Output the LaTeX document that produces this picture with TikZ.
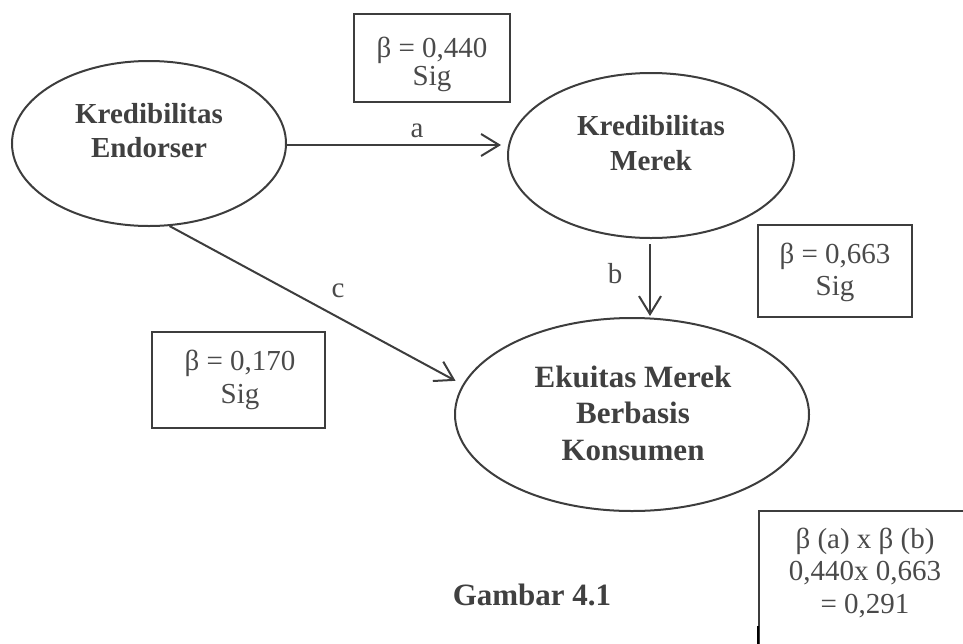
\documentclass[tikz,border=0pt]{standalone}
\usepackage{fontspec}
\setmainfont{Liberation Serif}
\usetikzlibrary{shapes.geometric,arrows.meta}
\definecolor{lc}{HTML}{3D3D3D}
\definecolor{bt}{HTML}{404040}
\definecolor{rt}{HTML}{4A4A4A}
\tikzset{
  oval/.style={ellipse,draw=lc,line width=2pt,inner sep=0pt},
  valbox/.style={rectangle,draw=lc,line width=2pt,inner sep=0pt},
  boldtxt/.style={text=bt,font=\bfseries\fontsize{29}{34}\selectfont,align=center,inner sep=0pt,anchor=base},
  regtxt/.style={text=rt,font=\fontsize{29}{28}\selectfont,align=center,inner sep=0pt,anchor=base},
  arr/.style={draw=lc,line width=2pt,-{Straight Barb[length=18pt,width=22pt,line width=2pt]}},
}
\begin{document}
\begin{tikzpicture}[x=1pt,y=1pt]
\useasboundingbox (0,0) rectangle (963,-643);
\clip (0,0) rectangle (963,-643);
% ellipses
\node[oval,minimum width=274pt,minimum height=165pt] (e1) at (149,-143.5) {};
\node[oval,minimum width=286pt,minimum height=165pt] (e2) at (651,-155.5) {};
\node[oval,minimum width=354pt,minimum height=193pt] (e3) at (632,-414.5) {};
\node[boldtxt] (t1) at (149,-157) {Kredibilitas\\Endorser};
\node[boldtxt,font=\bfseries\fontsize{29}{35}\selectfont] (t2) at (651,-170) {Kredibilitas\\Merek};
\node[boldtxt,font=\bfseries\fontsize{31}{36.5}\selectfont] (t3) at (633,-460) {Ekuitas Merek\\Berbasis\\Konsumen};
% boxes
\node[valbox,minimum width=156pt,minimum height=88pt] (b1) at (432,-58) {};
\node[valbox,minimum width=154pt,minimum height=92pt] (b2) at (835,-271) {};
\node[valbox,minimum width=173pt,minimum height=96pt] (b4) at (238.5,-380) {};
\node[valbox,minimum width=220pt,minimum height=150pt,anchor=north west] (b3) at (758,-510) {};
\draw[black,line width=2pt] (b3.north west) ++(0,-116) coordinate (k1) -- (k1 |- b3.south);
\node[regtxt] (v1) at (432,-85) {β = 0,440\\Sig};
\node[regtxt,font=\fontsize{29}{32}\selectfont] (v2) at (835,-295) {β = 0,663\\Sig};
\node[regtxt,font=\fontsize{29}{33}\selectfont] (v4) at (240,-403) {β = 0,170\\Sig};
\node[regtxt,font=\fontsize{29}{32.5}\selectfont] (v3) at (865,-613) {β (a) x β (b)\\0,440x 0,663\\= 0,291};
% caption
\node[boldtxt,font=\bfseries\fontsize{31}{36}\selectfont] (cap) at (532,-605) {Gambar 4.1};
% arrows
\draw[arr] ([yshift=-1.5pt]e1.east) -- ([xshift=-6pt,yshift=-1.5pt]e1.east -| e2.west);
\draw[arr] ([xshift=-1pt,yshift=-5pt]e2.south) -- ([xshift=-1pt,yshift=1pt]e2.south |- e3.north);
\draw[arr,shorten >=8pt] (e1.-76) -- (e3.170);
% labels
\node[regtxt] (la) at (417,-137) {a};
\node[regtxt] (lb) at (615,-283) {b};
\node[regtxt] (lc) at (338,-297) {c};
\end{tikzpicture}
\end{document}
